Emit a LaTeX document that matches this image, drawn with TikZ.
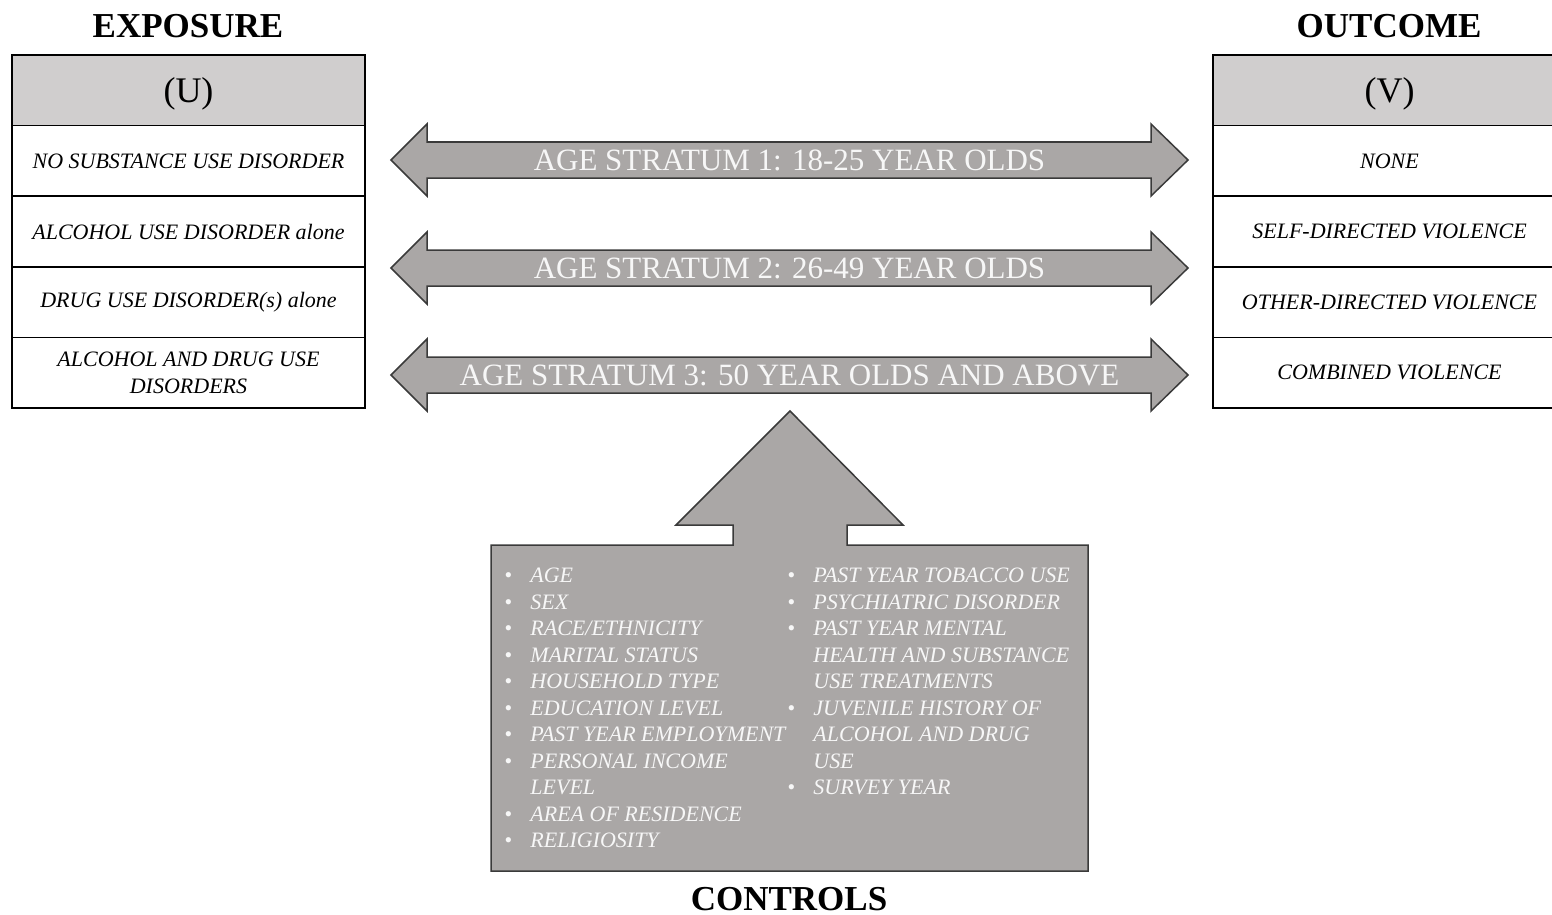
\documentclass[tikz,border=0pt]{standalone}
\usepackage{fontspec}
\setmainfont{Liberation Serif}
\definecolor{headgray}{HTML}{D0CECE}
\definecolor{boxgray}{HTML}{AAA7A6}
\definecolor{edgegray}{HTML}{3A3A3A}
\definecolor{lighttext}{HTML}{F7F7F7}
\begin{document}
\begin{tikzpicture}[x=0.5pt,y=-0.5pt,
  cell/.style={draw=black, line width=0.75pt, minimum width=176.5pt, minimum height=35.3pt,
    inner sep=0pt, align=center, font=\fontsize{11}{13.2}\selectfont\itshape},
  headcell/.style={cell, fill=headgray, font=\fontsize{18}{20}\selectfont,
    text height=12.7pt, text depth=0.8pt},
  title/.style={font=\fontsize{17.5}{20}\selectfont\bfseries, inner sep=1pt},
  arrowbox/.style={draw=edgegray, line width=0.75pt, fill=boxgray, line join=miter},
  arrowtext/.style={text=lighttext, font=\fontsize{15.5}{18}\selectfont},
  listtext/.style={text=lighttext, inner sep=0pt, anchor=north west, align=left,
    font=\fontsize{11}{13.25}\selectfont\itshape}
]
\useasboundingbox (0,0) rectangle (1552,915);
\clip (0,0) rectangle (1552,915);

% titles
\node[title] (exptitle) at (188,26) {EXPOSURE};
\node[title] (outtitle) at (1389,26) {OUTCOME};
\node[title] (ctltitle) at (789,899) {CONTROLS};

% exposure table
\node[headcell] (U)  at (188.5,90.3)  {(U)};
\node[cell]     (u1) at (188.5,160.9) {NO SUBSTANCE USE DISORDER};
\node[cell]     (u2) at (188.5,231.5) {ALCOHOL USE DISORDER \textit{alone}};
\node[cell]     (u3) at (188.5,302.1) {DRUG USE DISORDER(\textit{s}) \textit{alone}};
\node[cell]     (u4) at (188.5,372.7) {ALCOHOL AND DRUG USE\\DISORDERS};

% outcome table
\node[headcell] (V)  at (1389.5,90.3)  {(V)};
\node[cell]     (v1) at (1389.5,160.9) {NONE};
\node[cell]     (v2) at (1389.5,231.5) {SELF-DIRECTED VIOLENCE};
\node[cell]     (v3) at (1389.5,302.1) {OTHER-DIRECTED VIOLENCE};
\node[cell]     (v4) at (1389.5,372.7) {COMBINED VIOLENCE};

% double arrows
\foreach \y/\n/\t in {160/1/{AGE STRATUM 1: 18-25 YEAR OLDS},
                      268/2/{AGE STRATUM 2: 26-49 YEAR OLDS},
                      375/3/{AGE STRATUM 3: 50 YEAR OLDS AND ABOVE}}{
  \draw[arrowbox] (391,\y) -- (427,\y-36) -- (427,\y-18) -- (1151,\y-18) -- (1151,\y-36)
    -- (1188,\y) -- (1151,\y+36) -- (1151,\y+18) -- (427,\y+18) -- (427,\y+36) -- cycle;
  \node[arrowtext] (stratum\n) at (789.5,\y) {\t};
}

% controls up-arrow box
\draw[arrowbox] (790,411) -- (903,525) -- (847,525) -- (847,545) -- (1088,545)
  -- (1088,871) -- (491,871) -- (491,545) -- (733,545) -- (733,525) -- (676,525) -- cycle;

\node[listtext] (ctlleft) at (504,564) {%
\begin{tabular}{@{}l@{}l@{}}
\makebox[13pt][l]{\textbullet} & AGE\\
\makebox[13pt][l]{\textbullet} & SEX\\
\makebox[13pt][l]{\textbullet} & RACE/ETHNICITY\\
\makebox[13pt][l]{\textbullet} & MARITAL STATUS\\
\makebox[13pt][l]{\textbullet} & HOUSEHOLD TYPE\\
\makebox[13pt][l]{\textbullet} & EDUCATION LEVEL\\
\makebox[13pt][l]{\textbullet} & PAST YEAR EMPLOYMENT\\
\makebox[13pt][l]{\textbullet} & PERSONAL INCOME\\
 & LEVEL\\
\makebox[13pt][l]{\textbullet} & AREA OF RESIDENCE\\
\makebox[13pt][l]{\textbullet} & RELIGIOSITY
\end{tabular}};

\node[listtext] (ctlright) at (787,564) {%
\begin{tabular}{@{}l@{}l@{}}
\makebox[13pt][l]{\textbullet} & PAST YEAR TOBACCO USE\\
\makebox[13pt][l]{\textbullet} & PSYCHIATRIC DISORDER\\
\makebox[13pt][l]{\textbullet} & PAST YEAR MENTAL\\
 & HEALTH AND SUBSTANCE\\
 & USE TREATMENTS\\
\makebox[13pt][l]{\textbullet} & JUVENILE HISTORY OF\\
 & ALCOHOL AND DRUG\\
 & USE\\
\makebox[13pt][l]{\textbullet} & SURVEY YEAR
\end{tabular}};
\end{tikzpicture}
\end{document}
